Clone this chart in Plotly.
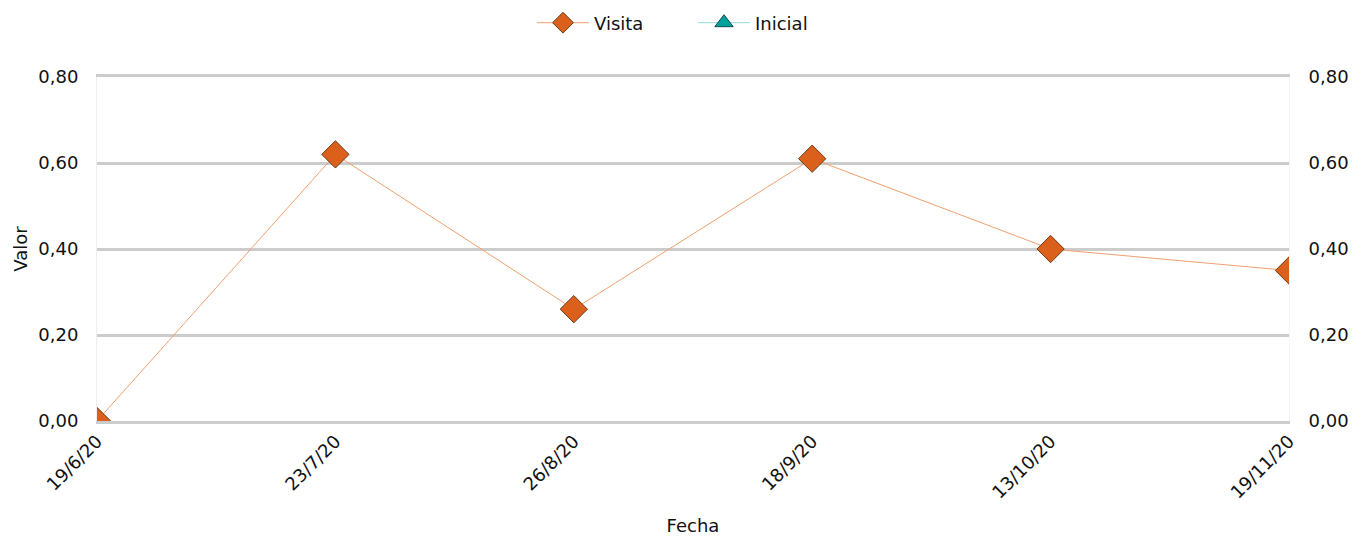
import plotly.graph_objects as go

fechas = ["19/6/20", "23/7/20", "26/8/20", "18/9/20", "13/10/20", "19/11/20"]
visita = [0.00, 0.62, 0.26, 0.61, 0.40, 0.35]
inicial = [None, None, None, None, None, None]
y_ticks = [0.0, 0.2, 0.4, 0.6, 0.8]

font = "DejaVu Sans"
fs = 18

fig = go.Figure()
fig.add_trace(go.Scatter(
    x=fechas, y=visita, name="Visita", mode="lines+markers",
    line=dict(color="#F0A070", width=1),
    marker=dict(symbol="diamond", size=21, color="#DA601C",
                line=dict(color="#6B3A18", width=1)),
))
fig.add_trace(go.Scatter(
    x=fechas, y=inicial, name="Inicial", mode="lines+markers",
    line=dict(color="#8FDDD8", width=1),
    marker=dict(symbol="triangle-up", size=21, color="#00A19C",
                line=dict(color="#0B4F4C", width=1)),
))
fig.add_trace(go.Scatter(
    x=fechas, y=visita, yaxis="y2", mode="markers", showlegend=False,
    hoverinfo="skip", marker=dict(opacity=0),
))

fig.update_layout(
    width=1364, height=536,
    margin=dict(l=97, r=75, t=77, b=115),
    paper_bgcolor="white", plot_bgcolor="white",
    separators=",.",
    font=dict(family=font, size=fs, color="#111111"),
    legend=dict(orientation="h", x=0.5, xanchor="center",
                y=1 - 23 / 536, yanchor="middle", yref="container",
                font=dict(size=fs), itemwidth=52,
                entrywidth=94, entrywidthmode="pixels",
                traceorder="normal"),
    xaxis=dict(
        type="category", range=[0, 5], tickangle=-45,
        showgrid=False, zeroline=False,
        showline=True, mirror=True, linecolor="#CCCCCC", linewidth=2.5,
        ticks="", tickfont=dict(size=fs), automargin=False,
        ticklabelstandoff=0,
        title=dict(text="Fecha", font=dict(size=fs), standoff=26),
    ),
    yaxis=dict(
        range=[0, 0.8], tickvals=y_ticks, tickformat=".2f",
        showgrid=True, gridcolor="#CCCCCC", gridwidth=2.5,
        zeroline=False, showline=True, linecolor="#EEEEEE", linewidth=1,
        ticks="", tickfont=dict(size=fs), automargin=False,
        ticklabelstandoff=14,
        title=dict(text="Valor", font=dict(size=fs), standoff=6),
    ),
    yaxis2=dict(
        range=[0, 0.8], tickvals=y_ticks, tickformat=".2f",
        overlaying="y", side="right", showgrid=False, zeroline=False,
        showline=True, linecolor="#F4F4F4", linewidth=1,
        ticks="", tickfont=dict(size=fs), automargin=False,
        ticklabelstandoff=15,
    ),
)

fig.write_html("out.html", config={"displayModeBar": False},
               post_script="document.body.style.margin='0';")
